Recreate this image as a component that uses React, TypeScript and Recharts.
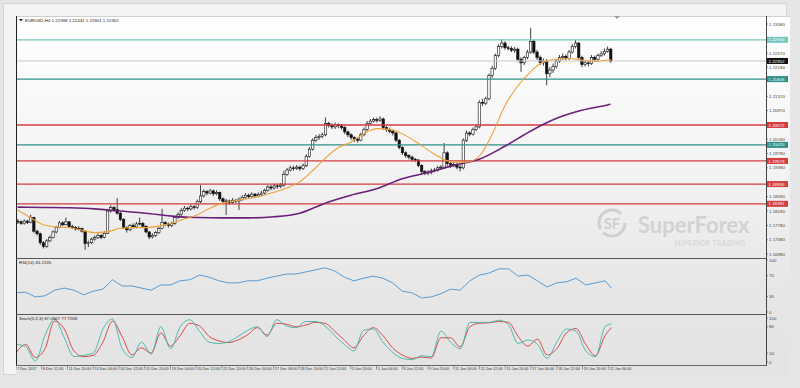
import React from "react";
import { ComposedChart, Bar, Line, XAxis, YAxis, ReferenceLine } from "recharts";

// EURUSD H4, candle values kept as pips above 1.17000
const BASE = 1.17;
const FIRST_OPEN = 90;

const closes = [
  88, 84, 90, 86, 100, 62, 55, 30, 20, 35,
  45, 60, 72, 85, 80, 88, 75, 72, 68, 70,
  62, 28, 30, 40, 44, 50, 45, 56, 118, 128,
  122, 112, 95, 72, 66, 78, 74, 82, 84, 76,
  60, 46, 50, 58, 70, 86, 82, 78, 84, 100,
  108, 120, 126, 124, 130, 128, 144, 160, 172, 168,
  174, 166, 170, 152, 145, 146, 142, 148, 146, 150,
  156, 162, 158, 165, 160, 164, 168, 175, 185, 182,
  188, 186, 190, 220, 232, 238, 236, 240, 236, 244,
  270, 290, 315, 322, 325, 330, 362, 356, 352, 358,
  355, 350, 338, 330, 322, 318, 315, 330, 345, 362,
  368, 372, 370, 374, 350, 345, 340, 335, 315, 295,
  280, 272, 268, 262, 260, 245, 228, 224, 226, 230,
  232, 238, 240, 280, 250, 245, 248, 240, 238, 315,
  335, 332, 345, 352, 420, 418, 430, 495, 515, 550,
  575, 585, 572, 570, 565, 568, 540, 530, 545, 560,
  590, 560, 545, 530, 535, 500, 510, 520, 535, 545,
  548, 542, 560, 575, 585, 545, 525, 530, 528, 545,
  540, 550, 555, 562, 568, 535,
];
const highs = [
  96, 92, 95, 94, 108, 102, 66, 58, 34, 40,
  50, 64, 76, 90, 90, 100, 90, 80, 76, 76,
  72, 64, 36, 44, 50, 56, 54, 62, 124, 134,
  132, 154, 116, 98, 76, 82, 84, 88, 100, 88,
  78, 62, 56, 62, 74, 124, 90, 86, 88, 104,
  114, 126, 132, 130, 136, 134, 150, 190, 178, 176,
  180, 178, 176, 172, 156, 152, 150, 154, 152, 156,
  162, 168, 166, 170, 168, 170, 174, 180, 190, 190,
  194, 194, 196, 230, 238, 244, 244, 246, 244, 250,
  276, 296, 320, 330, 332, 336, 378, 366, 362, 364,
  362, 360, 354, 342, 334, 326, 322, 336, 350, 368,
  374, 378, 378, 382, 378, 354, 350, 344, 338, 318,
  298, 284, 276, 272, 266, 262, 248, 232, 232, 236,
  238, 244, 246, 307, 284, 254, 254, 252, 246, 320,
  342, 340, 350, 360, 426, 430, 436, 500, 522, 556,
  582, 596, 590, 578, 576, 574, 572, 546, 550, 566,
  627, 594, 566, 550, 542, 540, 518, 528, 540, 552,
  556, 554, 566, 582, 594, 588, 550, 538, 536, 552,
  550, 556, 562, 570, 575, 572,
];
const lows = [
  82, 80, 80, 82, 84, 58, 50, 24, 14, 16,
  32, 42, 56, 70, 76, 78, 72, 68, 64, 64,
  58, 10, 18, 26, 36, 40, 40, 42, 54, 114,
  116, 108, 90, 68, 58, 62, 70, 70, 78, 72,
  56, 40, 42, 46, 54, 68, 76, 72, 74, 80,
  96, 104, 116, 118, 120, 122, 124, 140, 156, 162,
  164, 160, 162, 146, 138, 107, 136, 138, 140, 121,
  146, 152, 152, 154, 156, 156, 160, 164, 172, 176,
  178, 180, 182, 186, 216, 228, 230, 232, 230, 232,
  240, 266, 286, 310, 316, 320, 326, 350, 346, 346,
  348, 344, 332, 324, 316, 310, 308, 312, 326, 340,
  358, 364, 364, 366, 344, 338, 334, 328, 310, 290,
  274, 266, 262, 256, 254, 240, 222, 218, 218, 220,
  226, 228, 232, 236, 244, 238, 240, 234, 228, 234,
  310, 326, 328, 340, 348, 410, 412, 426, 488, 510,
  545, 570, 566, 564, 560, 558, 534, 505, 524, 540,
  555, 554, 538, 524, 522, 468, 490, 502, 514, 530,
  538, 536, 538, 556, 570, 540, 518, 520, 520, 524,
  534, 536, 546, 550, 558, 530,
];

// moving averages (pips), fast every 4 bars, slow every 8 bars
const maFast = [
  121, 100, 80, 74, 72, 65, 58, 60, 70, 72,
  72, 76, 84, 96, 107, 126, 140, 147, 153, 160,
  170, 182, 199, 230, 265, 294, 310, 333, 347, 345,
  333, 312, 288, 266, 254, 254, 270, 330, 410, 465,
  505, 532, 540, 542, 538, 534, 538, 540,
];
const maSlow = [
  129, 128, 127, 124, 118, 112, 104, 100, 99, 99,
  102, 112, 140, 162, 180, 208, 225, 245, 262, 298,
  340, 375, 398, 413, 415,
];

// oscillators, every 3 bars
const rsi = [
  37, 38, 29, 31, 42, 46, 42, 33, 40, 44,
  62, 50, 50, 46, 42, 52, 52, 60, 62, 71,
  67, 60, 56, 56, 60, 60, 65, 69, 73, 73,
  77, 81, 85, 79, 67, 60, 65, 69, 65, 56,
  40, 37, 27, 29, 35, 44, 42, 60, 71, 75,
  83, 83, 69, 71, 60, 48, 56, 58, 65, 52,
  56, 60, 46,
];
const stochMain = [
  40, 35, 2, 60, 98, 55, 12, 15, 20, 75,
  98, 30, 10, 45, 18, 80, 30, 80, 96, 70,
  45, 42, 46, 58, 72, 80, 58, 96, 82, 78,
  92, 92, 82, 60, 40, 25, 72, 75, 45, 22,
  8, 5, 14, 12, 70, 45, 30, 90, 90, 90,
  95, 85, 42, 50, 40, 8, 45, 75, 70, 25,
  12, 80, 87,
];
const stochSignal = [
  20, 40, 10, 30, 93, 75, 25, 12, 15, 45,
  93, 57, 16, 32, 20, 66, 36, 60, 88, 82,
  58, 48, 44, 50, 62, 78, 61, 88, 86, 80,
  84, 90, 88, 70, 50, 32, 60, 78, 60, 32,
  16, 8, 11, 9, 55, 55, 34, 80, 88, 89,
  92, 90, 58, 36, 52, 16, 30, 66, 76, 40,
  14, 60, 78,
];

// time axis, every 8 bars
const timeLabels = [
  "7 Dec 2017", "8 Dec 12:00", "11 Dec 20:00", "13 Dec 04:00", "14 Dec 12:00",
  "15 Dec 20:00", "19 Dec 04:00", "20 Dec 12:00", "21 Dec 20:00", "26 Dec 00:00",
  "27 Dec 08:00", "28 Dec 16:00", "2 Jan 12:00", "3 Jan 20:00", "5 Jan 04:00",
  "8 Jan 12:00", "9 Jan 20:00", "11 Jan 04:00", "12 Jan 12:00", "15 Jan 20:00",
  "17 Jan 04:00", "18 Jan 12:00", "19 Jan 20:00", "22 Jan 04:00",
];

// grid prices that are not hidden behind a level tag
const priceTicks = [
  1.2338, 1.2257, 1.2218, 1.2137, 1.2097, 1.2018,
  1.1978, 1.1938, 1.1858, 1.1818, 1.1778, 1.1738, 1.1698,
];
const levelPrices = [1.2294, 1.21848, 1.20572, 1.2002, 1.19573, 1.1893, 1.18381];
const BID = 1.22352;

const LEVEL_COLORS = ["#72c6bd", "#2e8f8a", "#d63c3c", "#2e8f8a", "#d63c3c", "#d63c3c", "#d63c3c"];
const PRICE_DOMAIN = [1.16875, 1.23602];
const SLOTS = 234;
const PLOT_W = 750;
const AXIS_W = 24;
const FONT = "'Liberation Sans', Arial, sans-serif";

const LAST = closes.length - 1;
const pip = (p: number) => BASE + p / 10000;

type Row = {
  i: number;
  o?: number; h?: number; l?: number; c?: number;
  fast?: number; slow?: number;
  rsi?: number; stM?: number; stS?: number;
};

const rows: Row[] = Array.from({ length: SLOTS }, (_, i) => ({ i }));
closes.forEach((c, i) => {
  rows[i].o = pip(i === 0 ? FIRST_OPEN : closes[i - 1]);
  rows[i].c = pip(c);
  rows[i].h = pip(highs[i]);
  rows[i].l = pip(lows[i]);
});
maFast.forEach((v, k) => { rows[Math.min(k * 4, LAST)].fast = pip(v); });
maSlow.forEach((v, k) => { rows[Math.min(k * 8, LAST)].slow = pip(v); });
rsi.forEach((v, k) => { rows[Math.min(k * 3, LAST)].rsi = v; });
stochMain.forEach((v, k) => { rows[Math.min(k * 3, LAST)].stM = v; });
stochSignal.forEach((v, k) => { rows[Math.min(k * 3, LAST)].stS = v; });

const Candle = (props: any) => {
  const { x, y, width, height, payload } = props;
  if (!payload || payload.h == null || !isFinite(y)) return null;
  const { o, h, l, c } = payload;
  const top = Math.min(y, y + height);
  const span = Math.abs(height);
  const k = h - l > 0 ? span / (h - l) : 0;
  const bTop = top + (h - Math.max(o, c)) * k;
  const bBot = top + (h - Math.min(o, c)) * k;
  const cx = x + width / 2;
  const up = c >= o;
  return (
    <g>
      <line x1={cx} x2={cx} y1={top} y2={top + span} stroke="#111" strokeWidth={0.8} />
      <rect
        x={cx - 1.2}
        y={bTop}
        width={2.4}
        height={Math.max(bBot - bTop, 0.8)}
        fill={up ? "#ffffff" : "#111111"}
        stroke="#111"
        strokeWidth={0.6}
      />
    </g>
  );
};

const PriceTick = (props: any) => {
  const { y, payload } = props;
  const v = payload.value as number;
  const li = levelPrices.indexOf(v);
  if (li >= 0 || v === BID) {
    const fill = li >= 0 ? LEVEL_COLORS[li] : "#111";
    return (
      <g>
        <rect x={PLOT_W + 1} y={y - 3} width={21} height={6} fill={fill} />
        <text x={PLOT_W + 2.5} y={y + 1.6} fontSize={4.4} fill="#fff" fontFamily={FONT}>
          {v.toFixed(5)}
        </text>
      </g>
    );
  }
  return (
    <g>
      <line x1={PLOT_W} x2={PLOT_W + 2} y1={y} y2={y} stroke="#444" strokeWidth={0.6} />
      <text x={PLOT_W + 3} y={y + 1.6} fontSize={4.4} fill="#444" fontFamily={FONT}>
        {v.toFixed(5)}
      </text>
    </g>
  );
};

const OscTick = (props: any) => {
  const { y, payload } = props;
  return (
    <g>
      <line x1={PLOT_W} x2={PLOT_W + 2} y1={y} y2={y} stroke="#444" strokeWidth={0.6} />
      <text x={PLOT_W + 3} y={y + 1.6} fontSize={4.4} fill="#444" fontFamily={FONT}>
        {payload.value}
      </text>
    </g>
  );
};

const TimeTick = (props: any) => {
  const { x, y, payload } = props;
  const i = payload.value as number;
  if (i % 8 !== 0 || i > LAST) return null;
  return (
    <g>
      <line x1={x} x2={x} y1={y} y2={y + 4.5} stroke="#555" strokeWidth={0.6} />
      <text x={x + 1.2} y={y + 5} fontSize={3.8} fill="#333" fontFamily={FONT}>
        {timeLabels[i / 8]}
      </text>
    </g>
  );
};

const noMargin = { top: 0, right: 0, bottom: 0, left: 0 };

const App = () => {
  const chartW = PLOT_W + AXIS_W;
  return (
    <div style={{ position: "absolute", left: 0, top: 0, width: 800, height: 388, background: "#e6e6e6", overflow: "hidden" }}>
      <div style={{ position: "absolute", left: 3, top: 3, width: 782, height: 370, background: "#f4f4f4", border: "1px solid #d4d4d4" }} />
      <div style={{ position: "absolute", left: 16, top: 16, width: 774, height: 359, background: "linear-gradient(#ffffff 0%, #f4f4f4 40%, #e7e7e7 75%, #e3e3e3 100%)" }} />

      <div style={{ position: "absolute", left: 16, top: 16 }}>
        <ComposedChart width={chartW} height={242} data={rows} margin={noMargin}>
          <XAxis dataKey="i" type="category" hide />
          <YAxis
            orientation="right"
            type="number"
            domain={PRICE_DOMAIN}
            allowDataOverflow
            ticks={[...priceTicks, BID, ...levelPrices]}
            interval={0}
            width={AXIS_W}
            axisLine={false}
            tickLine={false}
            tick={<PriceTick />}
          />
          <ReferenceLine y={BID} stroke="#c9c9c9" strokeWidth={1} />
          {levelPrices.map((p, k) => (
            <ReferenceLine key={p} y={p} stroke={LEVEL_COLORS[k]} strokeWidth={1.3} />
          ))}
          <Bar
            dataKey={(d: Row) => (d.h == null ? null : [d.l, d.h])}
            shape={<Candle />}
            isAnimationActive={false}
          />
          <Line dataKey="slow" type="monotone" stroke="#6a1f78" strokeWidth={1.6} dot={false} connectNulls isAnimationActive={false} />
          <Line dataKey="fast" type="monotone" stroke="#efa23a" strokeWidth={1.1} dot={false} connectNulls isAnimationActive={false} />
        </ComposedChart>
      </div>

      <div style={{ position: "absolute", left: 16, top: 258 }}>
        <ComposedChart width={chartW} height={56} data={rows} margin={noMargin}>
          <XAxis dataKey="i" type="category" hide />
          <YAxis
            orientation="right"
            type="number"
            domain={[-3.85, 103.85]}
            allowDataOverflow
            ticks={[0, 30, 70, 100]}
            interval={0}
            width={AXIS_W}
            axisLine={false}
            tickLine={false}
            tick={<OscTick />}
          />
          <Line dataKey="rsi" type="linear" stroke="#5a9bd2" strokeWidth={1} dot={false} connectNulls isAnimationActive={false} />
        </ComposedChart>
      </div>

      <div style={{ position: "absolute", left: 16, top: 314 }}>
        <ComposedChart width={chartW} height={61} data={rows} margin={{ top: 4, right: 0, bottom: 0, left: 0 }}>
          <XAxis
            dataKey="i"
            type="category"
            interval={0}
            height={10}
            tickSize={0}
            tickMargin={0}
            axisLine={false}
            tickLine={false}
            tick={<TimeTick />}
          />
          <YAxis
            orientation="right"
            type="number"
            domain={[-7, 100]}
            allowDataOverflow
            ticks={[0, 20, 80, 100]}
            interval={0}
            width={AXIS_W}
            axisLine={false}
            tickLine={false}
            tick={<OscTick />}
          />
          <Line dataKey="stS" type="monotone" stroke="#d83a3a" strokeWidth={0.9} dot={false} connectNulls isAnimationActive={false} />
          <Line dataKey="stM" type="monotone" stroke="#3db4a7" strokeWidth={0.9} dot={false} connectNulls isAnimationActive={false} />
        </ComposedChart>
      </div>

      <svg width={800} height={388} style={{ position: "absolute", left: 0, top: 0, pointerEvents: "none" }}>
        <line x1={16} x2={790} y1={16.5} y2={16.5} stroke="#cfcfcf" />
        <line x1={16.5} x2={16.5} y1={16} y2={366} stroke="#222" />
        <line x1={766.5} x2={766.5} y1={16} y2={366} stroke="#444" />
        <line x1={16} x2={767} y1={258.5} y2={258.5} stroke="#555" />
        <line x1={16} x2={767} y1={314.5} y2={314.5} stroke="#555" />
        <line x1={16} x2={767} y1={365.5} y2={365.5} stroke="#666" />
        <polygon points="614,16 620,16 617,19" fill="#9a9a9a" />

        <g fontFamily={FONT} fontSize={4.4} fill="#222">
          <polygon points="19,19 23,19 21,21.5" fill="#222" />
          <text x={25} y={21.5}>EURUSD,H4  1.22398 1.22441 1.22301 1.22352</text>
          <text x={19} y={263.5}>RSI(14) 45.2135</text>
          <text x={19} y={319.5}>Stoch(5,3,3) 87.0567 77.7268</text>
        </g>

        <g opacity={0.9}>
          <circle cx={612} cy={223} r={13} fill="none" stroke="#cdcdcd" strokeWidth={3} strokeDasharray="30 4 37 11" />
          <text x={612} y={229} textAnchor="middle" fontFamily="Lato, sans-serif" fontWeight={700} fontSize={15} fill="#cdcdcd">
            SF
          </text>
          <text x={638} y={233} fontFamily="Lato, sans-serif" fontWeight={700} fontSize={22} fill="#d0d0d0">
            SuperForex
          </text>
          <text x={746} y={246} textAnchor="end" fontFamily="Lato, sans-serif" fontWeight={700} fontSize={6.5} letterSpacing={0.6} fill="#d6d6d6">
            SUPERIOR TRADING
          </text>
        </g>
      </svg>
    </div>
  );
};

export default App;
